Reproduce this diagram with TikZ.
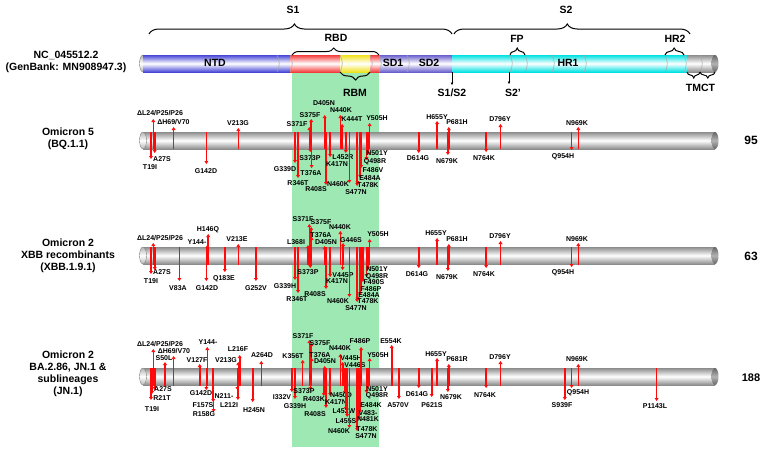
\documentclass[tikz,border=0pt]{standalone}
\usepackage{fontspec}
\setmainfont{Liberation Sans}
\usetikzlibrary{arrows.meta,decorations.pathreplacing}
\definecolor{rbdgreen}{RGB}{158,232,180}
\definecolor{mutred}{RGB}{255,10,10}
\definecolor{ntdblue}{RGB}{70,70,215}
\definecolor{sdblue}{RGB}{105,95,205}
\definecolor{rbdred}{RGB}{245,60,60}
\definecolor{rbmyellow}{RGB}{240,225,30}
\definecolor{s2cyan}{RGB}{0,225,225}
\definecolor{cylgray}{RGB}{140,140,140}
\tikzset{
  mut/.style={draw=mutred, fill=mutred, line width=1.6pt, -{Triangle[length=3pt,width=3.8pt]}},
  mlab/.style={font=\fontsize{7}{7}\selectfont\bfseries, inner sep=0pt},
  biglab/.style={font=\fontsize{10.5}{12}\selectfont\bfseries, inner sep=0pt, align=center},
  brc/.style={decorate, decoration={brace, amplitude=#1, aspect=0.48}, line width=1pt},
  segline/.style={draw=gray!70, line width=0.5pt},
}
% mutation arrows: (x,tip)(label x,label y){text}; bar top/bottom in \btop, \bbot
\def\mutup(#1,#2)(#3,#4)#5{\draw[mut] (#1,\bbot) -- (#1,#2); \node[mlab] at (#3,#4) {#5};}
\def\mutdn(#1,#2)(#3,#4)#5{\draw[mut] (#1,\btop) -- (#1,#2); \node[mlab] at (#3,#4) {#5};}
\def\segdiv#1#2{\draw[segline] (#1,#2) .. controls (#1+3,#2+5) and (#1+3,#2+12) .. (#1,#2+17);}
\def\rowbar#1{%
  \shade[top color=cylgray, bottom color=cylgray, middle color=white] (143,#1) rectangle (715,#1+17);
  \shade[top color=gray!60, bottom color=gray!60, middle color=white, draw=gray] (143,#1+8.5) ellipse [x radius=3.5pt, y radius=8.5pt];
  \shade[top color=gray!80!black, bottom color=gray!80!black, middle color=gray!60] (715,#1+8.5) ellipse [x radius=3.5pt, y radius=8.5pt];}

\begin{document}
\begin{tikzpicture}[x=1pt,y=-1pt]
  %%%%% START %%%%%
  \useasboundingbox (0,0) rectangle (764,450);
  \fill[rbdgreen] (292,72) rectangle (379,447);

  % reference spike
  \node[biglab] (refname) at (66,62) {NC\_045512.2\\(GenBank: MN908947.3)};
  \shade[top color=gray!60, bottom color=gray!60, middle color=white, draw=gray] (143,63.5) ellipse [x radius=3.5pt, y radius=8.5pt];
  \shade[top color=ntdblue, bottom color=ntdblue, middle color=white] (143,55) rectangle (290,72);
  \shade[top color=rbdred, bottom color=rbdred, middle color=white] (290,55) rectangle (340,72);
  \shade[top color=rbmyellow, bottom color=rbmyellow, middle color=white] (340,55) rectangle (370,72);
  \shade[top color=rbdred, bottom color=rbdred, middle color=white] (370,55) rectangle (379,72);
  \shade[top color=sdblue, bottom color=sdblue, middle color=white] (379,55) rectangle (452,72);
  \shade[top color=s2cyan, bottom color=s2cyan, middle color=white] (452,55) rectangle (687,72);
  \shade[top color=cylgray, bottom color=cylgray, middle color=white] (687,55) rectangle (715,72);
  \shade[top color=gray!80!black, bottom color=gray!80!black, middle color=gray!60] (715,63.5) ellipse [x radius=3.5pt, y radius=8.5pt];
  \segdiv{277}{55} \segdiv{290}{55} \segdiv{340}{55} \segdiv{370}{55} \segdiv{379}{55}
  \segdiv{407}{55} \segdiv{510}{55} \segdiv{525}{55} \segdiv{552}{55} \segdiv{584}{55}
  \segdiv{665}{55} \segdiv{684}{55} \segdiv{700}{55}
  \node[biglab] (ntd) at (215,63) {NTD};
  \node[biglab] (sd1) at (393,63) {SD1};
  \node[biglab] (sd2) at (429,63) {SD2};
  \node[biglab] (hr1) at (568,63) {HR1};

  \draw[brc=10pt] (149,34) -- (452,34);
  \draw[brc=10pt] (454,34) -- (690,34);
  \node[biglab] (s1) at (293,10) {S1};
  \node[biglab] (s2) at (566,10) {S2};
  \draw[brc=7pt] (292,55) -- (379,55);
  \node[biglab] (rbd) at (336,38) {RBD};
  \draw[brc=7pt] (510,55) -- (525,55);
  \node[biglab] (fp) at (517,39) {FP};
  \draw[brc=7pt] (665,55) -- (684,55);
  \node[biglab] (hr2) at (675,39) {HR2};
  \draw[brc=8pt] (370,72) -- (340,72);
  \node[biglab] (rbm) at (355,93) {RBM};
  \draw[brc=6pt] (700,72) -- (687,72);
  \draw[brc=6pt] (715,72) -- (700,72);
  \node[biglab] (tm) at (693.5,88) {TM};
  \node[biglab] (ct) at (708,88) {CT};
  \draw[line width=0.6pt, -{Triangle[length=2.5pt,width=2.5pt]}] (452,72) -- (452,85);
  \node[biglab] (s1s2) at (452,93) {S1/S2};
  \draw[line width=0.6pt, -{Triangle[length=2.5pt,width=2.5pt]}] (509,72) -- (509,84);
  \node[biglab] (s2p) at (513,93) {S2'};

  % Omicron 5 (BQ.1.1)
  \node[biglab] (bq) at (68,139) {Omicron 5\\(BQ.1.1)};
  \node[biglab, font=\fontsize{12}{14}\selectfont\bfseries] (nbq) at (751,140) {95};
  \rowbar{132}
  \def\btop{132}\def\bbot{149}
  \mutdn(151,159)(150,167){T19I}
  \mutup(153.3,119)(160,113){ΔL24/P25/P26}
  \mutdn(154.7,153)(162,159){A27S}
  \mutup(173.6,127)(173.5,122){ΔH69/V70}
  \mutdn(206.4,164)(206,171){G142D}
  \mutup(238.3,128)(238,123){V213G}
  \mutdn(295,163)(285,169){G339D}
  \mutdn(298,178)(298,183){R346T}
  \mutup(309.4,127)(297,124){S371F}
  \mutdn(310.3,152)(310,158){S373P}
  \mutup(311.2,119)(310,115){S375F}
  \mutdn(311.6,168)(311,173){T376A}
  \mutup(324.7,115)(324,103){D405N}
  \mutdn(326,185)(316,189){R408S}
  \mutdn(330.1,157)(337,164){K417N}
  \mutup(340.4,115)(341,110){N440K}
  \mutup(342.2,124)(352,119){K444T}
  \mutdn(345.8,153)(343,157){L452R}
  \mutdn(349.4,183)(338,184){N460K}
  \mutdn(357.1,186)(356,192){S477N}
  \mutdn(357.5,184)(368,185){T478K}
  \mutdn(360.2,178)(370,178){E484A}
  \mutdn(361.1,168)(373,170){F486V}
  \mutdn(366.5,160)(375,162){Q498R}
  \mutdn(367.8,155)(377,153){N501Y}
  \mutup(369.6,123)(377,118){Y505H}
  \mutdn(418.7,153)(418,158){D614G}
  \mutup(437.1,121)(437,117){H655Y}
  \mutdn(447.9,155)(447,161){N679K}
  \mutup(448.8,127)(457,122){P681H}
  \mutdn(486.1,152)(484,158){N764K}
  \mutup(500.5,124)(500,119){D796Y}
  \mutdn(571.6,150)(563,157){Q954H}
  \mutup(578.3,127)(577,123){N969K}

  % Omicron 2 XBB (XBB.1.9.1)
  \node[biglab] (xbb) at (68,256) {Omicron 2\\XBB recombinants\\(XBB.1.9.1)};
  \node[biglab, font=\fontsize{12}{14}\selectfont\bfseries] (nxbb) at (751,256) {63};
  \rowbar{247}
  \def\btop{247}\def\bbot{265}
  \mutdn(151,274)(151,281){T19I}
  \mutup(153.3,243)(160,238){ΔL24/P25/P26}
  \mutdn(154.7,270)(162,272){A27S}
  \mutdn(179.4,281)(178,288){V83A}
  \mutdn(206.4,281)(207,288){G142D}
  \mutup(207.3,245)(197,242){Y144-}
  \mutup(208.2,234)(208,230){H146Q}
  \mutdn(224.8,272)(224,279){Q183E}
  \mutup(238.3,244)(237,239){V213E}
  \mutdn(255.9,281)(256,288){G252V}
  \mutdn(295,280)(285,286){G339H}
  \mutdn(298,293)(297,299){R346T}
  \mutup(308,245)(296,242){L368I}
  \mutup(309.4,224)(303,219){S371F}
  \mutdn(310.3,268)(308,272){S373P}
  \mutup(311.2,227)(321,222){S375F}
  \mutup(311.6,237)(321,235){T376A}
  \mutup(324.7,246)(326,242){D405N}
  \mutdn(326,289)(315,294){R408S}
  \mutdn(330.1,277)(337,281){K417N}
  \mutup(340.4,231)(340,227){N440K}
  \mutdn(342.6,270)(343,275){V445P}
  \mutup(343.1,243)(351,240){G446S}
  \mutdn(349.4,297)(338,301){N460K}
  \mutdn(357.1,302)(356,308){S477N}
  \mutdn(357.5,300)(368,301){T478K}
  \mutdn(360.2,295)(369,295){E484A}
  \mutdn(361.1,289)(371,289){F486P}
  \mutdn(362.9,282)(374,282){F490S}
  \mutdn(366.5,277)(377,277){Q498R}
  \mutdn(367.8,270)(377,269){N501Y}
  \mutup(369.6,239)(378,234){Y505H}
  \mutdn(418.7,268)(417,274){D614G}
  \mutup(437.1,238)(436,233){H655Y}
  \mutdn(447.9,271)(447,277){N679K}
  \mutup(448.8,244)(457,239){P681H}
  \mutdn(486.1,268)(484,274){N764K}
  \mutup(500.5,241)(500,236){D796Y}
  \mutdn(571.6,267)(563,273){Q954H}
  \mutup(578.3,243)(577,239){N969K}

  % Omicron 2 BA.2.86, JN.1 (JN.1)
  \node[biglab] (jn) at (68,374) {Omicron 2\\BA.2.86, JN.1 \&\\sublineages\\(JN.1)};
  \node[biglab, font=\fontsize{11}{13}\selectfont\bfseries] (njn) at (751,378) {188};
  \rowbar{368}
  \def\btop{368}\def\bbot{386}
  \mutdn(151,400)(152,409){T19I}
  \mutdn(152,394)(162,398){R21T}
  \mutup(153.3,349)(160,344){ΔL24/P25/P26}
  \mutdn(154.7,390)(163,389){A27S}
  \mutup(165,362)(164,358){S50L}
  \mutup(173.6,356)(174,351){ΔH69/V70}
  \mutup(199.7,364)(197,360){V127F}
  \mutdn(206.4,390)(201,393){G142D}
  \mutup(207.3,347)(208,342){Y144-}
  \mutdn(213.2,402)(203,405){F157S}
  \mutdn(213.6,412)(204,414){R158G}
  \mutdn(237.4,390)(224,396){N211-}
  \mutdn(237.9,400)(229,405){L212I}
  \mutup(238.3,362)(226,360){V213G}
  \mutup(239.7,355)(238,349){L216F}
  \mutdn(252.7,402)(254,410){H245N}
  \mutup(261.3,361)(262,355){A264D}
  \mutdn(291.8,392)(282,397){I332V}
  \mutdn(295,399)(295,406){G339H}
  \mutup(302.6,360)(293,356){K356T}
  \mutup(309.4,340)(303,336){S371F}
  \mutdn(310.3,390)(304,391){S373P}
  \mutup(311.2,343)(320,343){S375F}
  \mutup(311.6,358)(320,355){T376A}
  \mutdn(323.8,396)(314,399.5){R403K}
  \mutup(324.7,366)(325,361){D405N}
  \mutdn(326,408)(315,414){R408S}
  \mutdn(330.1,396)(336,402){K417N}
  \mutup(340.4,354)(340,348){N440K}
  \mutup(342.7,362)(351,358){V445H}
  \mutup(343.1,368)(355,365){V446S}
  \mutdn(344.9,394)(341,395){N450D}
  \mutdn(345.8,410)(344,411){L452W}
  \mutdn(347.2,417)(346,421){L455S}
  \mutdn(349.4,428)(339,431){N460K}
  \mutdn(357.1,431)(366,436){S477N}
  \mutdn(357.5,429)(367,429){T478K}
  \mutdn(358.9,420)(368,419){N481K}
  \mutdn(359.8,413)(368,413){V483-}
  \mutdn(360.2,405)(371,405){E484K}
  \mutup(361.1,347)(360,341){F486P}
  \mutdn(366.5,393)(377,396){Q498R}
  \mutdn(367.8,388)(377,389){N501Y}
  \mutup(369.6,358)(378,355){Y505H}
  \mutup(391.7,345)(391,341){E554K}
  \mutdn(398.9,399)(398,405){A570V}
  \mutdn(418.7,388)(417,394){D614G}
  \mutdn(431.7,397)(432,405){P621S}
  \mutup(437.1,358)(436,354){H655Y}
  \mutdn(447.9,392)(451,397){N679K}
  \mutup(448.8,364)(457,359){P681R}
  \mutdn(486.1,388)(485,395){N764K}
  \mutup(500.5,361)(500,357){D796Y}
  \mutdn(564.8,400)(562,405){S939F}
  \mutdn(571.6,388)(578,393){Q954H}
  \mutup(578.3,364)(577,359){N969K}
  \mutdn(656.6,401)(655,406){P1143L}
  %%%%% END %%%%%
\end{tikzpicture}
\end{document}
